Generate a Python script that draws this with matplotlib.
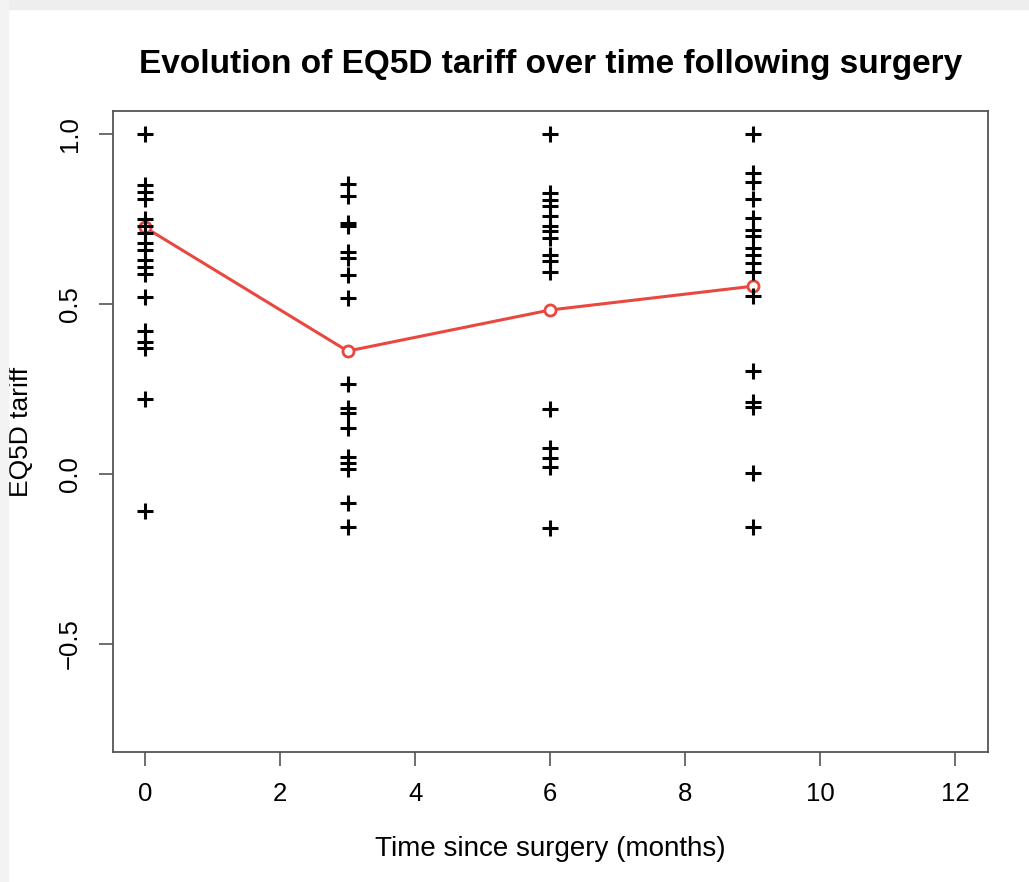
import matplotlib
matplotlib.use("Agg")
import matplotlib.pyplot as plt
from matplotlib.patches import Rectangle

plt.rcParams["font.family"] = ["Liberation Sans", "DejaVu Sans"]

# EQ5D tariffs, one list per visit (months after surgery)
months = [0, 3, 6, 9]
tariff_m0 = [1.0, 0.85, 0.83, 0.81, 0.75, 0.73, 0.71, 0.68, 0.66, 0.63,
             0.61, 0.59, 0.52, 0.42, 0.39, 0.37, 0.22, -0.11]
tariff_m3 = [0.855, 0.82, 0.74, 0.73, 0.655, 0.636, 0.587, 0.519, 0.264,
             0.195, 0.18, 0.136, 0.05, 0.033, 0.014, -0.087, -0.157]
tariff_m6 = [1.0, 0.827, 0.808, 0.788, 0.76, 0.73, 0.715, 0.695, 0.646,
             0.626, 0.595, 0.19, 0.075, 0.048, 0.02, -0.158]
tariff_m9 = [1.0, 0.886, 0.86, 0.81, 0.754, 0.72, 0.70, 0.666, 0.646,
             0.622, 0.595, 0.525, 0.303, 0.213, 0.198, 0.004, -0.155]
mean_tariff = [0.726, 0.362, 0.483, 0.553]

x_ticks = [0, 2, 4, 6, 8, 10, 12]
y_ticks = [-0.5, 0.0, 0.5, 1.0]
y_labels = ["\u22120.5", "0.0", "0.5", "1.0"]


def main():
    fig = plt.figure(figsize=(10.29, 8.82), dpi=100)
    # light screenshot border on top and left
    fig.patches.append(Rectangle((0, 0.99), 1, 0.01, transform=fig.transFigure,
                                 color="#eeeeee", zorder=0))
    fig.patches.append(Rectangle((0, 0), 0.008, 1, transform=fig.transFigure,
                                 color="#f3f3f3", zorder=0))
    ax = fig.add_axes([0.1095, 0.147, 0.8504, 0.7275])

    ax.plot(months, mean_tariff, color="#e8483f", lw=2.2, marker="o", ms=8,
            mfc="white", mec="#e8483f", mew=2, zorder=2)
    for m, vals in zip(months, [tariff_m0, tariff_m3, tariff_m6, tariff_m9]):
        ax.plot([m] * len(vals), vals, ls="none", marker="+", ms=11,
                mew=2.2, color="black", zorder=3)

    ax.set_xlim(-0.48, 12.48)
    ax.set_ylim(-0.82, 1.07)
    ax.set_xticks(x_ticks)
    ax.set_yticks(y_ticks)
    ax.set_yticklabels(y_labels, rotation=90, va="center")
    ax.tick_params(labelsize=18.5, length=10, width=1.2, color="#555555")
    ax.tick_params(axis="x", pad=11)
    ax.tick_params(axis="y", pad=12)
    for s in ax.spines.values():
        s.set_color("#555555")
        s.set_linewidth(1.3)

    ax.set_title("Evolution of EQ5D tariff over time following surgery",
                 fontsize=24, fontweight="bold", pad=27)
    ax.set_xlabel("Time since surgery (months)", fontsize=20, labelpad=22)
    ax.set_ylabel("EQ5D tariff", fontsize=19, labelpad=18)

    fig.savefig("out.png", dpi=100)


if __name__ == "__main__":
    main()
